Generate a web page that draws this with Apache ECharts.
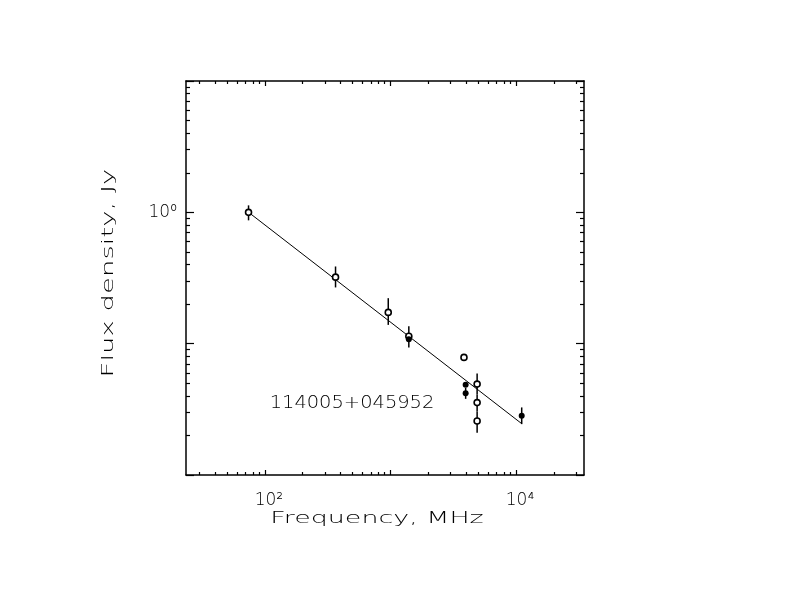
<!DOCTYPE html>
<html>
<head>
<meta charset="utf-8">
<script src="https://cdn.jsdelivr.net/npm/echarts@6/dist/echarts.min.js"></script>
<style>
html,body{margin:0;padding:0;background:#fff;}
#chart{width:792px;height:612px;}
</style>
</head>
<body>
<div id="chart"></div>
<script>
// 空心点
var openFreq = [74, 365, 960, 1400, 3850, 4900, 4900, 4900];
var openFlux = [1.0, 0.321, 0.173, 0.114, 0.0786, 0.0492, 0.0356, 0.0258];
var openLo   = [0.869, 0.268, 0.139, 0.0937, null, 0.041, 0.0305, 0.021];
var openHi   = [1.13, 0.387, 0.222, 0.1355, null, 0.0593, 0.041, 0.0305];

// 实心点
var filledFreq = [1400, 3970, 3970, 11100];
var filledFlux = [0.108, 0.0486, 0.042, 0.0282];
var filledLo   = [null, null, 0.038, 0.0244];
var filledHi   = [null, null, 0.0461, 0.0327];

// 拟合直线 (两个端点)
var fitFreq = [73.6, 11100];
var fitFlux = [1.005, 0.0246];

// 刻度
var xMajor = [100, 1000, 10000];
var xMinor = [30, 40, 50, 60, 70, 80, 90,
              200, 300, 400, 500, 600, 700, 800, 900,
              2000, 3000, 4000, 5000, 6000, 7000, 8000, 9000,
              20000, 30000];
var xLabelVals = [100, 10000];
var xLabelText = ['10²', '10⁴'];

var yMajor = [0.01, 0.1, 1, 10];
var yMinor = [0.02, 0.03, 0.04, 0.05, 0.06, 0.07, 0.08, 0.09,
              0.2, 0.3, 0.4, 0.5, 0.6, 0.7, 0.8, 0.9,
              2, 3, 4, 5, 6, 7, 8, 9];
var yLabelVals = [1];
var yLabelText = ['10⁰'];

var sourceName = '114005+045952';
var xTitle = 'Frequency, MHz';
var yTitle = 'Flux density, Jy';

var X_MIN = 23.5, X_MAX = 34800, Y_MIN = 0.01, Y_MAX = 10;
var FONT = '"DejaVu Sans", sans-serif';

function zipBars(f, lo, hi) {
    var out = [];
    for (var i = 0; i < f.length; i++) {
        if (lo[i] != null) out.push([f[i], lo[i], hi[i]]);
    }
    return out;
}
function zip(a, b) {
    return a.map(function (v, i) { return [v, b[i]]; });
}
function errorBar(params, api) {
    var p1 = api.coord([api.value(0), api.value(1)]);
    var p2 = api.coord([api.value(0), api.value(2)]);
    return {
        type: 'line',
        shape: { x1: p1[0], y1: p1[1], x2: p2[0], y2: p2[1] },
        style: { stroke: '#000', lineWidth: 1.5 }
    };
}
function xAx(grid, pos, ticks, len, line, labels) {
    return {
        type: 'log', logBase: 10, gridIndex: grid, position: pos,
        min: X_MIN, max: X_MAX,
        axisLine: { show: line, lineStyle: { color: '#000', width: 1.5 } },
        axisTick: { show: true, inside: true, length: len, customValues: ticks,
                    lineStyle: { color: '#000', width: 1.2 } },
        axisLabel: labels ? {
            show: true, customValues: xLabelVals, margin: 17,
            color: '#000', fontSize: 17, fontWeight: 200, fontFamily: FONT, padding: [0, 0, 0, 8],
            formatter: function (v) {
                var i = xLabelVals.indexOf(Math.round(v));
                return i >= 0 ? xLabelText[i] : '';
            }
        } : { show: false },
        splitLine: { show: false }
    };
}
function yAx(grid, pos, ticks, len, line, labels) {
    return {
        type: 'log', logBase: 10, gridIndex: grid, position: pos,
        min: Y_MIN, max: Y_MAX,
        axisLine: { show: line, lineStyle: { color: '#000', width: 1.5 } },
        axisTick: { show: true, inside: true, length: len, customValues: ticks,
                    lineStyle: { color: '#000', width: 1.2 } },
        axisLabel: labels ? {
            show: true, customValues: yLabelVals, margin: 9,
            color: '#000', fontSize: 17, fontWeight: 200, fontFamily: FONT,
            formatter: function (v) {
                var i = yLabelVals.indexOf(v);
                return i >= 0 ? yLabelText[i] : '';
            }
        } : { show: false },
        splitLine: { show: false }
    };
}

var chart = echarts.init(document.getElementById('chart'));
var gridBox = { left: 186, right: 208, top: 81, bottom: 137 };

chart.setOption({
    animation: false,
    backgroundColor: '#fff',
    textStyle: { fontFamily: FONT },
    grid: [
        Object.assign({}, gridBox),
        Object.assign({}, gridBox)
    ],
    xAxis: [
        xAx(0, 'bottom', xMajor, 5, true, true),
        xAx(0, 'top', xMajor, 5, true, false),
        xAx(1, 'bottom', xMinor, 3, false, false),
        xAx(1, 'top', xMinor, 3, false, false)
    ],
    yAxis: [
        yAx(0, 'left', yMajor, 8, true, true),
        yAx(0, 'right', yMajor, 8, true, false),
        yAx(1, 'left', yMinor, 4, false, false),
        yAx(1, 'right', yMinor, 4, false, false)
    ],
    graphic: [
        { type: 'text', x: 377, y: 519, scaleX: 1.68,
          style: { text: xTitle, font: '200 16px ' + FONT, fill: '#000',
                   textAlign: 'center', textVerticalAlign: 'middle' } },
        { type: 'text', x: 109, y: 273, rotation: Math.PI / 2, scaleX: 1.72,
          style: { text: yTitle, font: '200 16px ' + FONT, fill: '#000',
                   textAlign: 'center', textVerticalAlign: 'middle' } },
        { type: 'text', x: 352, y: 403, scaleX: 1.08,
          style: { text: sourceName, font: '200 18px ' + FONT, fill: '#000',
                   textAlign: 'center', textVerticalAlign: 'middle' } }
    ],
    series: [
        {
            type: 'line', xAxisIndex: 0, yAxisIndex: 0,
            data: zip(fitFreq, fitFlux), symbol: 'none',
            lineStyle: { color: '#000', width: 1 }, z: 1
        },
        {
            type: 'custom', xAxisIndex: 0, yAxisIndex: 0,
            renderItem: errorBar, encode: { x: 0, y: [1, 2] },
            data: zipBars(openFreq, openLo, openHi), z: 2
        },
        {
            type: 'custom', xAxisIndex: 0, yAxisIndex: 0,
            renderItem: errorBar, encode: { x: 0, y: [1, 2] },
            data: zipBars(filledFreq, filledLo, filledHi), z: 2
        },
        {
            type: 'scatter', xAxisIndex: 0, yAxisIndex: 0,
            data: zip(openFreq, openFlux), symbol: 'circle', symbolSize: 6,
            itemStyle: { color: '#fff', borderColor: '#000', borderWidth: 1.6, opacity: 1 },
            z: 3
        },
        {
            type: 'scatter', xAxisIndex: 0, yAxisIndex: 0,
            data: zip(filledFreq, filledFlux), symbol: 'circle', symbolSize: 6,
            itemStyle: { color: '#000', opacity: 1 },
            z: 4
        }
    ]
});
</script>
</body>
</html>
